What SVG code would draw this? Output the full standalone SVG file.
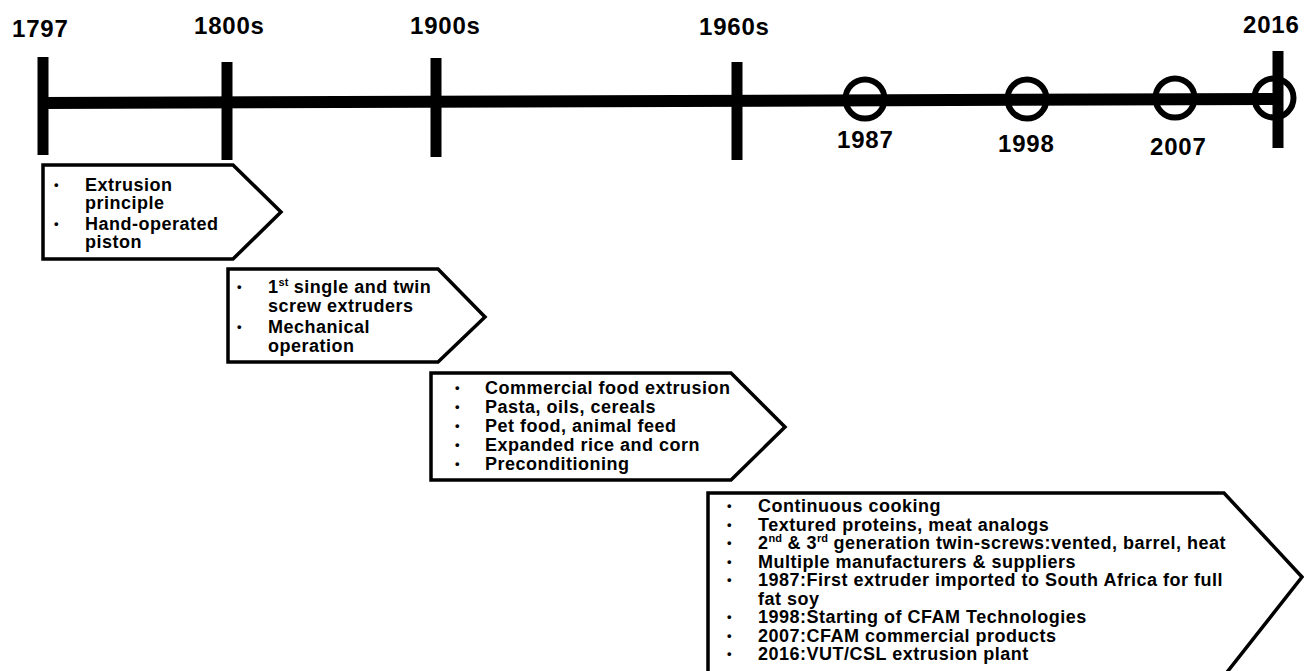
<svg xmlns="http://www.w3.org/2000/svg" width="1304" height="671" viewBox="0 0 1304 671">
<style>
text{font-family:"Liberation Sans",Arial,sans-serif;font-weight:bold;fill:#000}
.yr{font-size:24px;letter-spacing:0.8px}
.bx{font-size:18px;letter-spacing:0.5px}
.bl{font-size:13px}
.box{fill:#fff;stroke:#000;stroke-width:3.5;stroke-linejoin:miter}
.tick{stroke:#000;stroke-width:11}
.ring{fill:none;stroke:#000;stroke-width:6}
.sup{font-size:11px;letter-spacing:0}
</style>
<rect width="1304" height="671" fill="#fff"/>
<g id="connectors">
<line x1="43" y1="103" x2="1276" y2="99" stroke="#000" stroke-width="12"/>
</g>
<g id="t1797"><line class="tick" x1="43" y1="57" x2="43" y2="155"/><text class="yr" x="12" y="37">1797</text></g>
<g id="t1800s"><line class="tick" x1="227" y1="62" x2="227" y2="160"/><text class="yr" x="194" y="34">1800s</text></g>
<g id="t1900s"><line class="tick" x1="436" y1="58" x2="436" y2="157"/><text class="yr" x="410" y="34">1900s</text></g>
<g id="t1960s"><line class="tick" x1="737" y1="62" x2="737" y2="160"/><text class="yr" x="699" y="35">1960s</text></g>
<g id="t1987"><circle class="ring" cx="865" cy="99" r="19.5"/><text class="yr" x="837" y="148">1987</text></g>
<g id="t1998"><circle class="ring" cx="1027" cy="99" r="19.5"/><text class="yr" x="998" y="152">1998</text></g>
<g id="t2007"><circle class="ring" cx="1175" cy="98" r="19.5"/><text class="yr" x="1150" y="155">2007</text></g>
<g id="t2016"><circle class="ring" cx="1274" cy="98" r="19.5"/><line class="tick" x1="1278" y1="51" x2="1278" y2="148"/><text class="yr" x="1243" y="33">2016</text></g>
<g id="box1797">
<path class="box" d="M43,165 L233,165 L281,212 L233,259 L43,259 Z"/>
<text class="bl" x="54" y="189">•</text><text class="bx" x="85" y="191">Extrusion</text>
<text class="bx" x="85" y="209">principle</text>
<text class="bl" x="54" y="228">•</text><text class="bx" x="85" y="230">Hand-operated</text>
<text class="bx" x="85" y="248">piston</text>
</g>
<g id="box1800s">
<path class="box" d="M228,269 L438,269 L485,317 L438,362 L228,362 Z"/>
<text class="bl" x="237" y="291">•</text><text class="bx" x="268" y="293">1<tspan class="sup" dy="-7">st</tspan><tspan dy="7"> single and twin</tspan></text>
<text class="bx" x="268" y="312">screw extruders</text>
<text class="bl" x="237" y="331">•</text><text class="bx" x="268" y="333">Mechanical</text>
<text class="bx" x="268" y="352">operation</text>
</g>
<g id="box1900s">
<path class="box" d="M431,373 L731,373 L785,427 L731,480 L431,480 Z"/>
<text class="bl" x="455" y="392">•</text><text class="bx" x="485" y="394">Commercial food extrusion</text>
<text class="bl" x="455" y="411">•</text><text class="bx" x="485" y="413">Pasta, oils, cereals</text>
<text class="bl" x="455" y="430">•</text><text class="bx" x="485" y="432">Pet food, animal feed</text>
<text class="bl" x="455" y="449">•</text><text class="bx" x="485" y="451">Expanded rice and corn</text>
<text class="bl" x="455" y="468">•</text><text class="bx" x="485" y="470">Preconditioning</text>
</g>
<g id="box1960s">
<path class="box" d="M708,493 L1224,493 L1302,577 L1224,676 L708,676 Z"/>
<text class="bl" x="727" y="510">•</text><text class="bx" x="758" y="512">Continuous cooking</text>
<text class="bl" x="727" y="528.5">•</text><text class="bx" x="758" y="530.5">Textured proteins, meat analogs</text>
<text class="bl" x="727" y="547">•</text><text class="bx" x="758" y="549">2<tspan class="sup" dy="-7">nd</tspan><tspan dy="7"> &amp; 3</tspan><tspan class="sup" dy="-7">rd</tspan><tspan dy="7"> generation twin-screws:vented, barrel, heat</tspan></text>
<text class="bl" x="727" y="565.5">•</text><text class="bx" x="758" y="567.5">Multiple manufacturers &amp; suppliers</text>
<text class="bl" x="727" y="584">•</text><text class="bx" x="758" y="586">1987:First extruder imported to South Africa for full</text>
<text class="bx" x="758" y="604.5">fat soy</text>
<text class="bl" x="727" y="621">•</text><text class="bx" x="758" y="623">1998:Starting of CFAM Technologies</text>
<text class="bl" x="727" y="639.5">•</text><text class="bx" x="758" y="641.5">2007:CFAM commercial products</text>
<text class="bl" x="727" y="658">•</text><text class="bx" x="758" y="660">2016:VUT/CSL extrusion plant</text>
</g>
</svg>
